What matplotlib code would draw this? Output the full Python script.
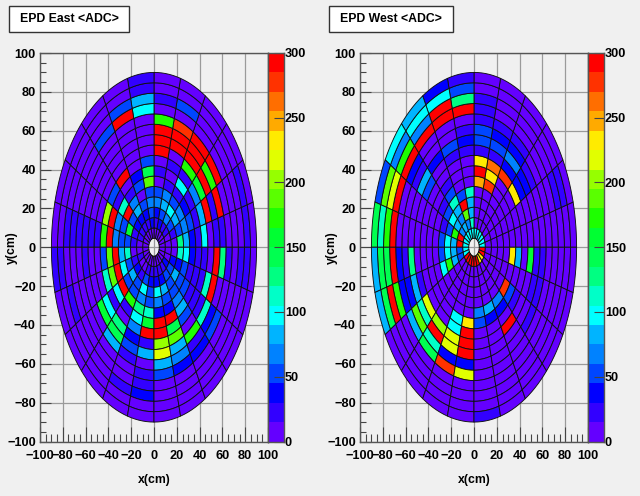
import numpy as np
import matplotlib
matplotlib.use("Agg")
import matplotlib.pyplot as plt
from matplotlib.collections import PolyCollection
from matplotlib.colors import ListedColormap, BoundaryNorm
from matplotlib.patches import Rectangle

plt.rcParams['font.family'] = ['Liberation Sans', 'DejaVu Sans']
plt.rcParams['font.weight'] = 'bold'

# one row per 15 degree sector (counterclockwise from +x), inner ring first
east_adc = [
    [7,7,7,127,82,37,22,97,7,22,22,7,7,7,22,7],
    [7,7,22,52,67,52,22,82,295,22,295,7,7,7,22,7],
    [7,22,52,82,67,37,22,67,157,295,172,295,7,7,7,7],
    [7,22,67,97,52,22,97,22,172,295,295,295,7,7,7,7],
    [7,37,52,82,67,22,7,22,7,295,295,277,7,52,7,7],
    [7,22,37,67,52,7,22,7,295,295,295,172,7,22,7,7],
    [7,37,52,67,52,187,142,52,7,7,7,7,97,82,22,22],
    [7,22,37,52,7,52,37,7,7,7,7,7,295,52,7,7],
    [7,22,37,82,67,22,7,295,7,7,7,7,52,7,7,7],
    [7,22,37,52,295,112,22,52,7,7,7,7,7,7,7,7],
    [7,22,22,157,52,67,295,202,7,7,7,7,7,7,7,7],
    [7,7,22,52,52,67,295,172,22,22,22,22,22,22,7,7],
    [7,7,7,112,82,295,187,52,7,7,22,7,7,7,22,22],
    [7,22,22,52,97,295,187,112,7,7,7,7,7,22,7,7],
    [7,7,37,82,52,295,97,22,97,157,7,7,7,7,7,7],
    [7,7,22,52,52,172,22,7,127,142,82,7,7,7,7,7],
    [7,22,52,97,67,127,97,67,37,52,22,7,7,22,7,7],
    [7,22,37,52,52,112,157,295,22,82,7,22,22,37,7,7],
    [7,22,37,97,67,37,295,295,202,217,82,52,7,7,7,7],
    [7,22,37,82,52,37,295,142,187,82,67,37,7,7,7,7],
    [7,22,52,52,52,67,82,52,7,172,22,37,7,7,7,7],
    [7,37,52,82,52,52,22,22,22,112,37,52,7,7,7,7],
    [7,7,37,37,52,22,22,22,112,295,7,7,7,7,7,7],
    [7,7,7,112,97,37,22,22,7,295,127,22,7,22,22,7],
]
west_adc = [
    [97,7,7,7,7,7,7,7,7,7,7,7,7,7,7,7],
    [97,7,7,7,7,7,7,7,7,7,7,7,7,22,22,7],
    [97,7,7,7,7,7,7,232,37,37,22,7,7,7,7,7],
    [97,7,7,7,7,7,7,277,37,67,37,22,7,7,7,7],
    [97,7,7,7,7,277,232,258,22,52,37,22,7,7,7,7],
    [97,7,7,7,7,247,295,232,22,52,52,22,22,22,7,7],
    [97,112,82,82,112,7,7,7,22,37,22,7,295,127,52,22],
    [97,67,187,295,52,7,7,7,22,52,7,7,295,295,97,37],
    [97,82,67,82,112,52,22,7,7,37,7,7,295,67,97,82],
    [97,67,82,97,52,22,7,7,52,82,22,37,295,172,67,97],
    [97,295,172,52,22,7,7,7,7,7,7,7,295,217,187,52],
    [97,295,82,97,52,7,7,7,7,7,7,7,295,172,112,142],
    [97,52,82,97,52,7,7,7,7,127,22,37,295,142,142,82],
    [97,52,82,172,97,7,7,7,22,82,37,37,172,295,142,82],
    [295,7,7,7,7,7,7,7,217,112,187,82,7,7,7,7],
    [295,7,7,7,7,7,7,7,202,295,112,142,7,7,7,7],
    [295,7,7,7,7,7,97,97,217,217,37,277,7,7,7,7],
    [295,7,7,7,7,7,232,295,295,295,37,217,7,7,7,7],
    [295,7,7,7,7,67,52,7,7,7,7,7,7,7,7,22],
    [295,7,7,7,7,82,37,7,7,7,7,7,7,7,7,7],
    [232,7,7,7,7,67,37,7,295,7,7,7,7,7,7,7],
    [232,7,7,7,7,277,52,22,7,7,22,7,7,7,7,7],
    [295,7,7,7,7,7,7,7,7,22,22,7,7,7,7,7],
    [295,7,7,7,7,232,82,7,157,22,22,7,7,7,7,7],
]

titles = ["EPD East <ADC>", "EPD West <ADC>"]
levels = np.arange(0, 315, 15)
palette = ['#6400ff','#3200ff','#0000ff','#0046ff','#0082ff','#00b4ff','#00ffff',
           '#00ffc8','#00ff82','#00ff50','#00ff32','#1eff00','#5aff00','#96ff00',
           '#e1ff00','#ffeb00','#ffaa00','#ff6e00','#ff3200','#ff0000']
cmap = ListedColormap(palette)
norm = BoundaryNorm(levels, cmap.N)

n_rings = 16
n_sectors = 24
r_edges = np.linspace(4.6, 90, n_rings + 1)
phi_edges = np.deg2rad(np.arange(0, 361, 15))

W, H = 640, 496
bg = '#f0f0f0'


def tile(r0, r1, p0, p1):
    p = np.linspace(p0, p1, 8)
    xs = np.r_[r0*np.cos(p), r1*np.cos(p[::-1])]
    ys = np.r_[r0*np.sin(p), r1*np.sin(p[::-1])]
    return np.c_[xs, ys]


def draw_panel(fig, left, values, title, box_x, box_w):
    ax = fig.add_axes([left/W, 1-441.5/H, 228/W, 388.5/H], facecolor=bg)
    ax.set_xlim(-100, 100)
    ax.set_ylim(-100, 100)
    ax.set_xticks(np.arange(-100, 101, 20))
    ax.set_yticks(np.arange(-100, 101, 20))
    ax.set_xticks(np.arange(-100, 101, 5), minor=True)
    ax.set_yticks(np.arange(-100, 101, 5), minor=True)
    ax.grid(True, which='major', color='#9a9a9a', lw=0.9)
    ax.set_axisbelow(True)
    ax.tick_params(axis='x', which='major', direction='in', length=11, width=0.8, color='#444444', labelsize=9.2, pad=6)
    ax.tick_params(axis='x', which='minor', direction='in', length=6, width=0.8, color='#444444')
    ax.tick_params(axis='y', which='major', direction='in', length=8, width=0.8, color='#444444', labelsize=9.2, pad=3)
    ax.tick_params(axis='y', which='minor', direction='in', length=4, width=0.8, color='#444444')
    for s in ax.spines.values():
        s.set_color('#555555')
        s.set_linewidth(1)

    polys = []
    vals = []
    for i in range(n_sectors):
        for j in range(n_rings):
            polys.append(tile(r_edges[j], r_edges[j+1], phi_edges[i], phi_edges[i+1]))
            vals.append(values[i][j])
    pc = PolyCollection(polys, array=np.array(vals), cmap=cmap, norm=norm,
                        edgecolors='#101010', linewidths=0.65)
    ax.add_collection(pc)

    ax.set_xlabel("x(cm)", fontsize=8.8, fontweight='bold', labelpad=9)
    ax.set_ylabel("y(cm)", fontsize=8.8, fontweight='bold')
    ax.yaxis.set_label_coords(-0.096, 0.5)

    cax = fig.add_axes([(left+228)/W, 1-441.5/H, 15.5/W, 388.5/H])
    cax.pcolormesh([0, 1], levels, np.array(levels[:-1]).reshape(-1, 1) + 1, cmap=cmap, norm=norm)
    cax.set_xticks([])
    cax.yaxis.tick_right()
    cax.set_yticks(np.arange(0, 301, 50))
    cax.tick_params(axis='y', direction='in', length=7, width=0.8, color='#444444', labelsize=9.2, pad=1)
    for s in cax.spines.values():
        s.set_color('#555555')
        s.set_linewidth(1)

    fig.add_artist(Rectangle((box_x/W, 1-31.5/H), box_w/W, 25/H, transform=fig.transFigure,
                             facecolor='white', edgecolor='#333333', lw=1))
    fig.text((box_x+box_w/2)/W, 1-19.5/H, title, fontsize=8.8, ha='center', va='center', color='black')


fig = plt.figure(figsize=(W/100, H/100), dpi=100, facecolor=bg)
draw_panel(fig, 40, east_adc, titles[0], 9, 120)
draw_panel(fig, 360, west_adc, titles[1], 329, 124)
fig.savefig("out.png", dpi=100, facecolor=bg)
